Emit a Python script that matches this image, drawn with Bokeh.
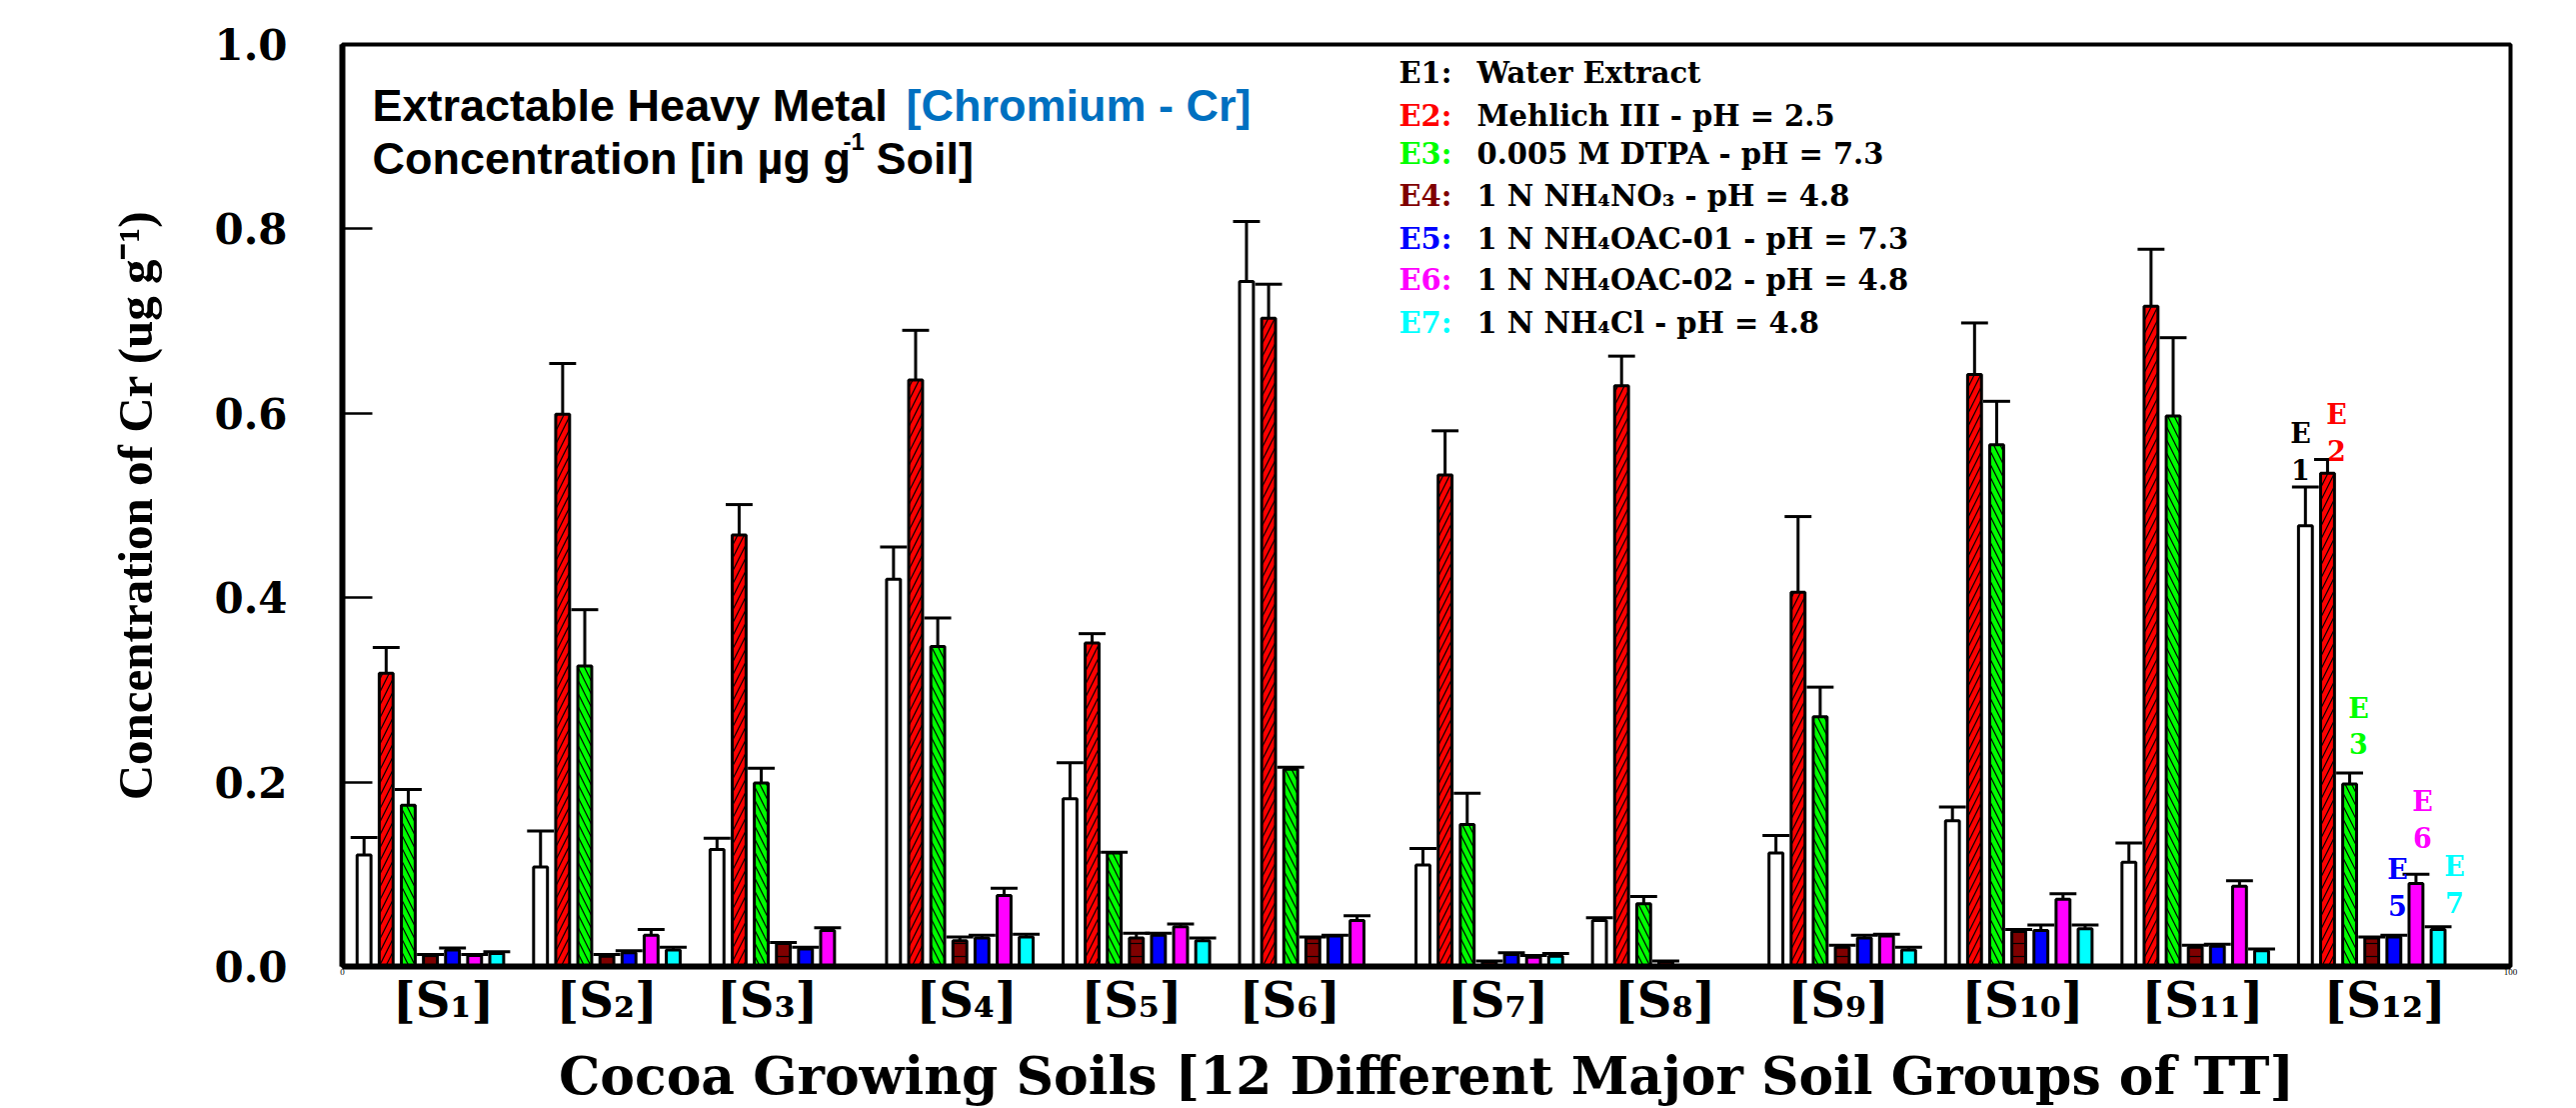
import math
from bokeh.plotting import figure
from bokeh.models import Range1d, Label, FixedTicker, NumeralTickFormatter, LinearAxis
from bokeh.embed import file_html
from bokeh.resources import INLINE

# ---------------- data ----------------
soils = ["1", "2", "3", "4", "5", "6", "7", "8", "9", "10", "11", "12"]
sub_digits = {"0": "\u2080", "1": "\u2081", "2": "\u2082", "3": "\u2083", "4": "\u2084",
              "5": "\u2085", "6": "\u2086", "7": "\u2087", "8": "\u2088", "9": "\u2089"}
soil_labels = ["[S" + "".join(sub_digits[c] for c in s) + "]" for s in soils]
series_names = ["E1", "E2", "E3", "E4", "E5", "E6", "E7"]
legend_text = ["Water Extract",
               "Mehlich III - pH = 2.5",
               "0.005 M DTPA -  pH = 7.3",
               "1 N NH\u2084NO\u2083  -  pH = 4.8",
               "1 N NH\u2084OAC-01 - pH = 7.3",
               "1 N NH\u2084OAC-02 - pH = 4.8",
               "1 N NH\u2084Cl  -  pH = 4.8"]

E1 = [0.121, 0.108, 0.127, 0.420, 0.182, 0.743, 0.110, 0.050, 0.123, 0.158, 0.113, 0.478]
E1_err = [0.019, 0.039, 0.012, 0.035, 0.039, 0.065, 0.018, 0.003, 0.019, 0.015, 0.021, 0.042]
E2 = [0.318, 0.599, 0.468, 0.636, 0.351, 0.703, 0.533, 0.630, 0.406, 0.642, 0.716, 0.535]
E2_err = [0.028, 0.055, 0.033, 0.054, 0.010, 0.037, 0.048, 0.032, 0.082, 0.056, 0.062, 0.015]
E3 = [0.175, 0.326, 0.199, 0.347, 0.123, 0.214, 0.154, 0.068, 0.271, 0.566, 0.597, 0.198]
E3_err = [0.017, 0.061, 0.016, 0.031, 0.001, 0.002, 0.034, 0.008, 0.032, 0.047, 0.085, 0.012]
E4 = [0.012, 0.011, 0.025, 0.028, 0.031, 0.031, 0.005, 0.005, 0.021, 0.038, 0.021, 0.031]
E4_err = [0.001, 0.002, 0.001, 0.004, 0.005, 0.001, 0.001, 0.001, 0.002, 0.002, 0.002, 0.001]
E5 = [0.018, 0.015, 0.019, 0.031, 0.034, 0.033, 0.013, 0.0, 0.031, 0.039, 0.022, 0.032]
E5_err = [0.002, 0.002, 0.002, 0.003, 0.002, 0.001, 0.002, 0.0, 0.003, 0.006, 0.002, 0.002]
E6 = [0.012, 0.034, 0.039, 0.077, 0.043, 0.050, 0.010, 0.0, 0.033, 0.073, 0.087, 0.090]
E6_err = [0.001, 0.006, 0.003, 0.008, 0.003, 0.005, 0.002, 0.0, 0.002, 0.006, 0.006, 0.010]
E7 = [0.014, 0.018, 0.0, 0.032, 0.028, 0.0, 0.011, 0.0, 0.018, 0.041, 0.017, 0.040]
E7_err = [0.002, 0.003, 0.0, 0.003, 0.003, 0.0, 0.003, 0.0, 0.003, 0.004, 0.002, 0.003]

values = [E1, E2, E3, E4, E5, E6, E7]
errors = [E1_err, E2_err, E3_err, E4_err, E5_err, E6_err, E7_err]
y_ticks = [0.0, 0.2, 0.4, 0.6, 0.8, 1.0]

# ---------------- styles / layout ----------------
fills = ["white", "#ff0000", "#00ff00", "#7f0000", "#0000ff", "#ff00ff", "#00ffff"]
label_cols = ["black", "#ff0000", "#00ff00", "#7f0000", "#0000ff", "#ff00ff", "#00ffff"]
hatches = [" ", "/", "\\", "-", " ", " ", " "]
GROUP0, GROUP_STEP, BAR_STEP = 1.0, 8.14, 1.02
BAR_W, CAP_HALF = 0.64, 0.62
label_x = [4.66, 12.2, 19.6, 28.8, 36.4, 43.7, 53.3, 61.0, 69.0, 77.5, 85.8, 94.2]

W, H = 2577, 1108
FL, FR, FT, FB = 342, 2511, 44, 968
PXX = (FR - FL) / 100.0
PXY = (FB - FT) / 1.0
LBL_SHIFT = -9  # vertical correction for label placement


def fx(px):
    return (px - FL) / PXX


def fy(py):
    return (FB - (py + LBL_SHIFT)) / PXY


p = figure(width=W, height=H, x_range=Range1d(0, 100), y_range=Range1d(0, 1),
           output_backend="svg", toolbar_location=None,
           min_border_left=FL, min_border_right=W - FR, min_border_top=FT,
           min_border_bottom=H - FB)
p.xgrid.visible = False
p.ygrid.visible = False
p.outline_line_color = "black"
p.outline_line_width = 4
p.outline_line_alpha = 1.0
p.background_fill_color = "white"
p.border_fill_color = "white"

# y axis
p.yaxis.ticker = FixedTicker(ticks=y_ticks)
p.yaxis.formatter = NumeralTickFormatter(format="0.0")
p.yaxis.major_tick_in = 30
p.yaxis.major_tick_out = 0
p.yaxis.major_tick_line_width = 2.5
p.yaxis.minor_tick_line_color = None
p.yaxis.axis_line_width = 6
p.yaxis.major_label_text_font = "DejaVu Serif"
p.yaxis.major_label_text_font_style = "bold"
p.yaxis.major_label_text_font_size = "42px"
p.yaxis.major_label_text_color = "black"
p.yaxis.major_label_standoff = 55
p.yaxis.axis_label = "Concentration of Cr (ug g\u207b\u00b9)"
p.yaxis.axis_label_text_font = "Liberation Serif"
p.yaxis.axis_label_text_font_style = "bold"
p.yaxis.axis_label_text_font_size = "49px"
p.yaxis.axis_label_text_color = "black"
p.yaxis.axis_label_standoff = 48

# x axis: positional 0..100 scale with tiny end labels
p.xaxis.ticker = FixedTicker(ticks=[0, 100])
p.xaxis.major_tick_in = 0
p.xaxis.major_tick_out = 0
p.xaxis.minor_tick_line_color = None
p.xaxis.axis_line_width = 6
p.xaxis.major_label_text_font = "Liberation Serif"
p.xaxis.major_label_text_font_size = "9px"
p.xaxis.major_label_text_color = "black"
p.xaxis.major_label_standoff = 2

# soil-group axis
s_axis = LinearAxis(ticker=FixedTicker(ticks=label_x),
                    major_label_overrides={x: t for x, t in zip(label_x, soil_labels)})
s_axis.axis_line_color = None
s_axis.major_tick_line_color = None
s_axis.minor_tick_line_color = None
s_axis.major_label_text_font = "DejaVu Serif"
s_axis.major_label_text_font_style = "bold"
s_axis.major_label_text_font_size = "48px"
s_axis.major_label_text_color = "black"
s_axis.major_label_standoff = -12
s_axis.axis_label = "Cocoa Growing Soils [12 Different Major Soil Groups of TT]"
s_axis.axis_label_text_font = "DejaVu Serif"
s_axis.axis_label_text_font_style = "bold"
s_axis.axis_label_text_font_size = "52px"
s_axis.axis_label_text_color = "black"
s_axis.axis_label_standoff = 14
p.add_layout(s_axis, "below")

# bars
for j in range(7):
    xs, tops = [], []
    for i, v in enumerate(values[j]):
        if v > 0:
            xs.append(GROUP0 + GROUP_STEP * i + BAR_STEP * j)
            tops.append(v)
    kw = {}
    if hatches[j].strip():
        kw = dict(hatch_pattern=hatches[j], hatch_color="black", hatch_scale=13, hatch_weight=1.2)
    p.vbar(x=xs, top=tops, bottom=0, width=BAR_W, fill_color=fills[j],
           line_color="black", line_width=3, **kw)

# error bars
for j in range(7):
    x0, y0, y1 = [], [], []
    for i, v in enumerate(values[j]):
        if v > 0:
            x0.append(GROUP0 + GROUP_STEP * i + BAR_STEP * j)
            y0.append(v)
            y1.append(v + errors[j][i])
    p.segment(x0=x0, y0=y0, x1=x0, y1=y1, line_color="black", line_width=3)
    p.segment(x0=[x - CAP_HALF for x in x0], y0=y1, x1=[x + CAP_HALF for x in x0], y1=y1,
              line_color="black", line_width=3)


def lab(x, y, text, size, font="DejaVu Serif", style="bold", color="black",
        align="left", baseline="alphabetic", angle=0.0, x_offset=0):
    p.add_layout(Label(x=x, y=y, text=text, text_font=font, text_font_style=style,
                       text_font_size=f"{size}px", text_color=color, text_align=align,
                       text_baseline=baseline, angle=angle, x_offset=x_offset))


# subtitle box text
lab(fx(372), fy(114), "Extractable Heavy Metal", 45, font="Liberation Sans")
lab(fx(906), fy(114), "[Chromium - Cr]", 45, font="Liberation Sans", color="#0070C0")
lab(fx(372), fy(167), "Concentration [in \u00b5g g", 45, font="Liberation Sans")
lab(fx(843), fy(150), "-1", 24, font="Liberation Sans")
lab(fx(876), fy(167), "Soil]", 45, font="Liberation Sans")

# legend text
leg_base = [82, 125, 163, 205, 248, 289, 332]
for k in range(7):
    lab(fx(1399), fy(leg_base[k]), series_names[k] + ":", 29, color=label_cols[k])
    lab(fx(1477), fy(leg_base[k]), legend_text[k], 29)

# E-labels above S12 bars
e_pos = [(2301, 443), (2337, 424), (2359, 718), None, (2398, 880), (2423, 812), (2455, 877)]
for k, pos in enumerate(e_pos):
    if pos is None:
        continue
    cx, b = pos
    lab(fx(cx), fy(b), "E", 27, color=label_cols[k], align="center")
    lab(fx(cx), fy(b + 36), series_names[k][1], 27, color=label_cols[k], align="center")

open("out.html", "w").write(file_html(p, INLINE))
